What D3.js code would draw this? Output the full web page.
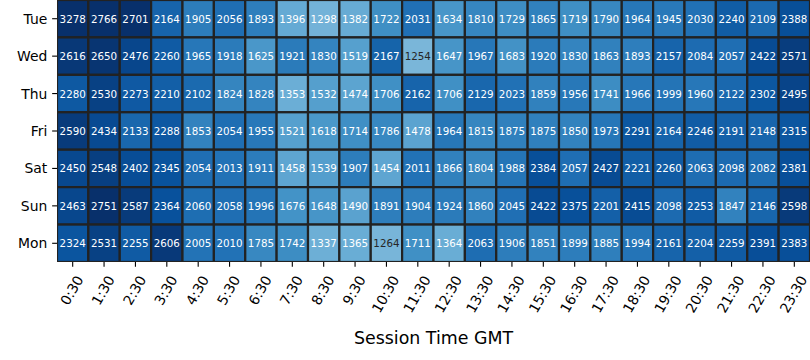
<!DOCTYPE html>
<html><head><meta charset="utf-8">
<script src="https://cdn.jsdelivr.net/npm/d3@7"></script>
<style>body{margin:0;background:#fff}svg{display:block}text{font-family:"DejaVu Sans",sans-serif}</style>
</head><body><svg id="c" width="810" height="360"></svg>
<script>
const days = ["Tue","Wed","Thu","Fri","Sat","Sun","Mon"];
const times = ["0:30","1:30","2:30","3:30","4:30","5:30","6:30","7:30","8:30","9:30","10:30","11:30","12:30","13:30","14:30","15:30","16:30","17:30","18:30","19:30","20:30","21:30","22:30","23:30"];
const tue = [3278,2766,2701,2164,1905,2056,1893,1396,1298,1382,1722,2031,1634,1810,1729,1865,1719,1790,1964,1945,2030,2240,2109,2388];
const wed = [2616,2650,2476,2260,1965,1918,1625,1921,1830,1519,2167,1254,1647,1967,1683,1920,1830,1863,1893,2157,2084,2057,2422,2571];
const thu = [2280,2530,2273,2210,2102,1824,1828,1353,1532,1474,1706,2162,1706,2129,2023,1859,1956,1741,1966,1999,1960,2122,2302,2495];
const fri = [2590,2434,2133,2288,1853,2054,1955,1521,1618,1714,1786,1478,1964,1815,1875,1875,1850,1973,2291,2164,2246,2191,2148,2315];
const sat = [2450,2548,2402,2345,2054,2013,1911,1458,1539,1907,1454,2011,1866,1804,1988,2384,2057,2427,2221,2260,2063,2098,2082,2381];
const sun = [2463,2751,2587,2364,2060,2058,1996,1676,1648,1490,1891,1904,1924,1860,2045,2422,2375,2201,2415,2098,2253,1847,2146,2598];
const mon = [2324,2531,2255,2606,2005,2010,1785,1742,1337,1365,1264,1711,1364,2063,1906,1851,1899,1885,1994,2161,2204,2259,2391,2383];
const rows = [tue,wed,thu,fri,sat,sun,mon];

const L = 57, R = 810, T = 0, B = 262;
const svg = d3.select("#c");
const x = d3.scaleBand().domain(times).range([L, R]);
const y = d3.scaleBand().domain(days).range([T, B]);

// matplotlib Blues
const bluesStops = ["#f7fbff","#deebf7","#c6dbef","#9ecae1","#6baed6","#4292c6","#2171b5","#08519c","#08306b"];
const blues = d3.scaleLinear().domain(d3.range(9).map(i=>i/8)).range(bluesStops).interpolate(d3.interpolateRgb).clamp(true);
const norm = d3.scaleLinear().domain([0, 2700]).clamp(true);
const color = v => blues(norm(v));
function lum(c){const r=d3.rgb(c);const f=v=>{v/=255;return v<=0.03928?v/12.92:Math.pow((v+0.055)/1.055,2.4)};return 0.2126*f(r.r)+0.7152*f(r.g)+0.0722*f(r.b);}

const cells = [];
rows.forEach((row,i)=>row.forEach((v,j)=>cells.push({day:days[i],time:times[j],v})));

svg.append("clipPath").attr("id","clip").append("rect").attr("x",L).attr("y",T).attr("width",R-L).attr("height",B-T);
const g = svg.append("g").attr("clip-path","url(#clip)");
g.selectAll("rect").data(cells).join("rect")
  .attr("x",d=>x(d.time)).attr("y",d=>y(d.day))
  .attr("width",x.bandwidth()).attr("height",y.bandwidth())
  .attr("fill",d=>color(d.v)).attr("stroke","#222").attr("stroke-width",2.2);
svg.append("g").selectAll("text").data(cells).join("text")
  .attr("x",d=>x(d.time)+x.bandwidth()/2).attr("y",d=>y(d.day)+y.bandwidth()/2)
  .attr("text-anchor","middle").attr("dominant-baseline","central")
  .attr("font-size","10.3px")
  .attr("fill",d=>lum(color(d.v))>0.408?"#262626":"#fff")
  .text(d=>d.v);

// y axis
const tickLen = 4.86, pad = 4.86;
const ya = svg.append("g");
days.forEach(d=>{
  const cy = y(d)+y.bandwidth()/2;
  ya.append("line").attr("x1",L-tickLen).attr("x2",L).attr("y1",cy).attr("y2",cy).attr("stroke","#000").attr("stroke-width",1.1);
  ya.append("text").attr("x",L-tickLen-pad).attr("y",cy).attr("text-anchor","end").attr("dominant-baseline","central")
    .attr("font-size","13.9px").attr("fill","#000").text(d);
});
// x axis
const xa = svg.append("g");
const ang = 60*Math.PI/180;
times.forEach(t=>{
  const cx = x(t)+x.bandwidth()/2;
  xa.append("line").attr("x1",cx).attr("x2",cx).attr("y1",B).attr("y2",B+tickLen).attr("stroke","#000").attr("stroke-width",1.1);
  const txt = xa.append("text").attr("text-anchor","middle").attr("dominant-baseline","central")
    .attr("font-size","13.9px").attr("fill","#000").text(t);
  const len = txt.node().getComputedTextLength();
  const H = 13.9*1.164;
  const bh = len*Math.sin(ang)+H*Math.cos(ang);
  txt.attr("transform",`translate(${cx - 1},${B+tickLen+pad+bh/2+1}) rotate(-60)`);
});
svg.append("text").attr("x",(L+R)/2).attr("y",344).attr("text-anchor","middle")
  .attr("font-size","17.4px").attr("fill","#000").text("Session Time GMT");
</script></body></html>
